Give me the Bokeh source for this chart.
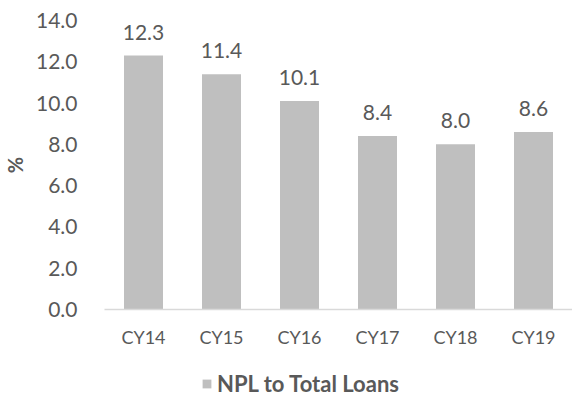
from bokeh.plotting import figure
from bokeh.layouts import column
from bokeh.models import (ColumnDataSource, FactorRange, Legend, LegendItem, LabelSet,
                          SingleIntervalTicker, CustomJSTickFormatter, Range1d)
from bokeh.core.properties import value
from bokeh.embed import file_html
from bokeh.resources import INLINE

categories = ["CY14", "CY15", "CY16", "CY17", "CY18", "CY19"]
npl_values = [12.3, 11.4, 10.1, 8.4, 8.0, 8.6]
series_name = "NPL to Total Loans"

TXT = "#595959"
BAR = "#BFBFBF"
FONT = "Lato"

src = ColumnDataSource(dict(cat=categories, val=npl_values,
                            lab=[f"{v:.1f}" for v in npl_values]))

p = figure(width=572, height=357, output_backend="svg", toolbar_location=None,
           x_range=FactorRange(factors=categories, start=0, end=5.95),
           y_range=(0, 14), min_border_left=96, min_border_right=0,
           min_border_top=20, min_border_bottom=48)
p.outline_line_color = None
p.grid.grid_line_color = None

r = p.vbar(x="cat", top="val", width=0.5, source=src, color=BAR, line_color=None)

labels = LabelSet(x="cat", y="val", text="lab", source=src, text_align="center",
                  text_baseline="bottom", y_offset=16, text_font=value(FONT),
                  text_font_size="21px", text_color=TXT)
p.add_layout(labels)

p.yaxis.ticker = SingleIntervalTicker(interval=2)
p.yaxis.formatter = CustomJSTickFormatter(code="return tick.toFixed(1);")
p.yaxis.axis_line_color = None
p.yaxis.major_tick_line_color = None
p.yaxis.minor_tick_line_color = None
p.yaxis.major_label_text_font = FONT
p.yaxis.major_label_text_font_size = "21px"
p.yaxis.major_label_text_color = TXT
p.yaxis.major_label_standoff = 21
p.yaxis.axis_label = "%"
p.yaxis.axis_label_text_font = FONT
p.yaxis.axis_label_text_font_style = "bold"
p.yaxis.axis_label_text_font_size = "20px"
p.yaxis.axis_label_text_color = TXT
p.yaxis.axis_label_standoff = 6

p.xaxis.axis_line_color = "#D9D9D9"
p.xaxis.axis_line_width = 1.5
p.xaxis.major_tick_line_color = None
p.xaxis.minor_tick_line_color = None
p.xaxis.major_label_text_font = FONT
p.xaxis.major_label_text_font_size = "18px"
p.xaxis.major_label_text_color = TXT
p.xaxis.major_label_standoff = 10

# legend strip underneath (frames are aligned with the chart above)
lg = figure(width=572, height=40, output_backend="svg", toolbar_location=None,
            x_range=Range1d(0, 1), y_range=Range1d(0, 1), min_border=0,
            x_axis_location=None, y_axis_location=None)
lg.outline_line_color = None
lg.grid.visible = False
dummy = lg.vbar(x=[-5], top=[-5], width=0.5, color=BAR, line_color=None)
legend = Legend(items=[LegendItem(label=series_name, renderers=[dummy])],
                location=(97, 0), orientation="horizontal",
                label_text_font=FONT, label_text_font_style="bold",
                label_text_font_size="22px", label_text_color=TXT,
                glyph_width=11, glyph_height=11, label_standoff=5,
                border_line_color=None, background_fill_alpha=0,
                margin=0, padding=0)
lg.add_layout(legend)

layout = column(p, lg, spacing=0)
open("out.html", "w").write(file_html(layout, INLINE))
